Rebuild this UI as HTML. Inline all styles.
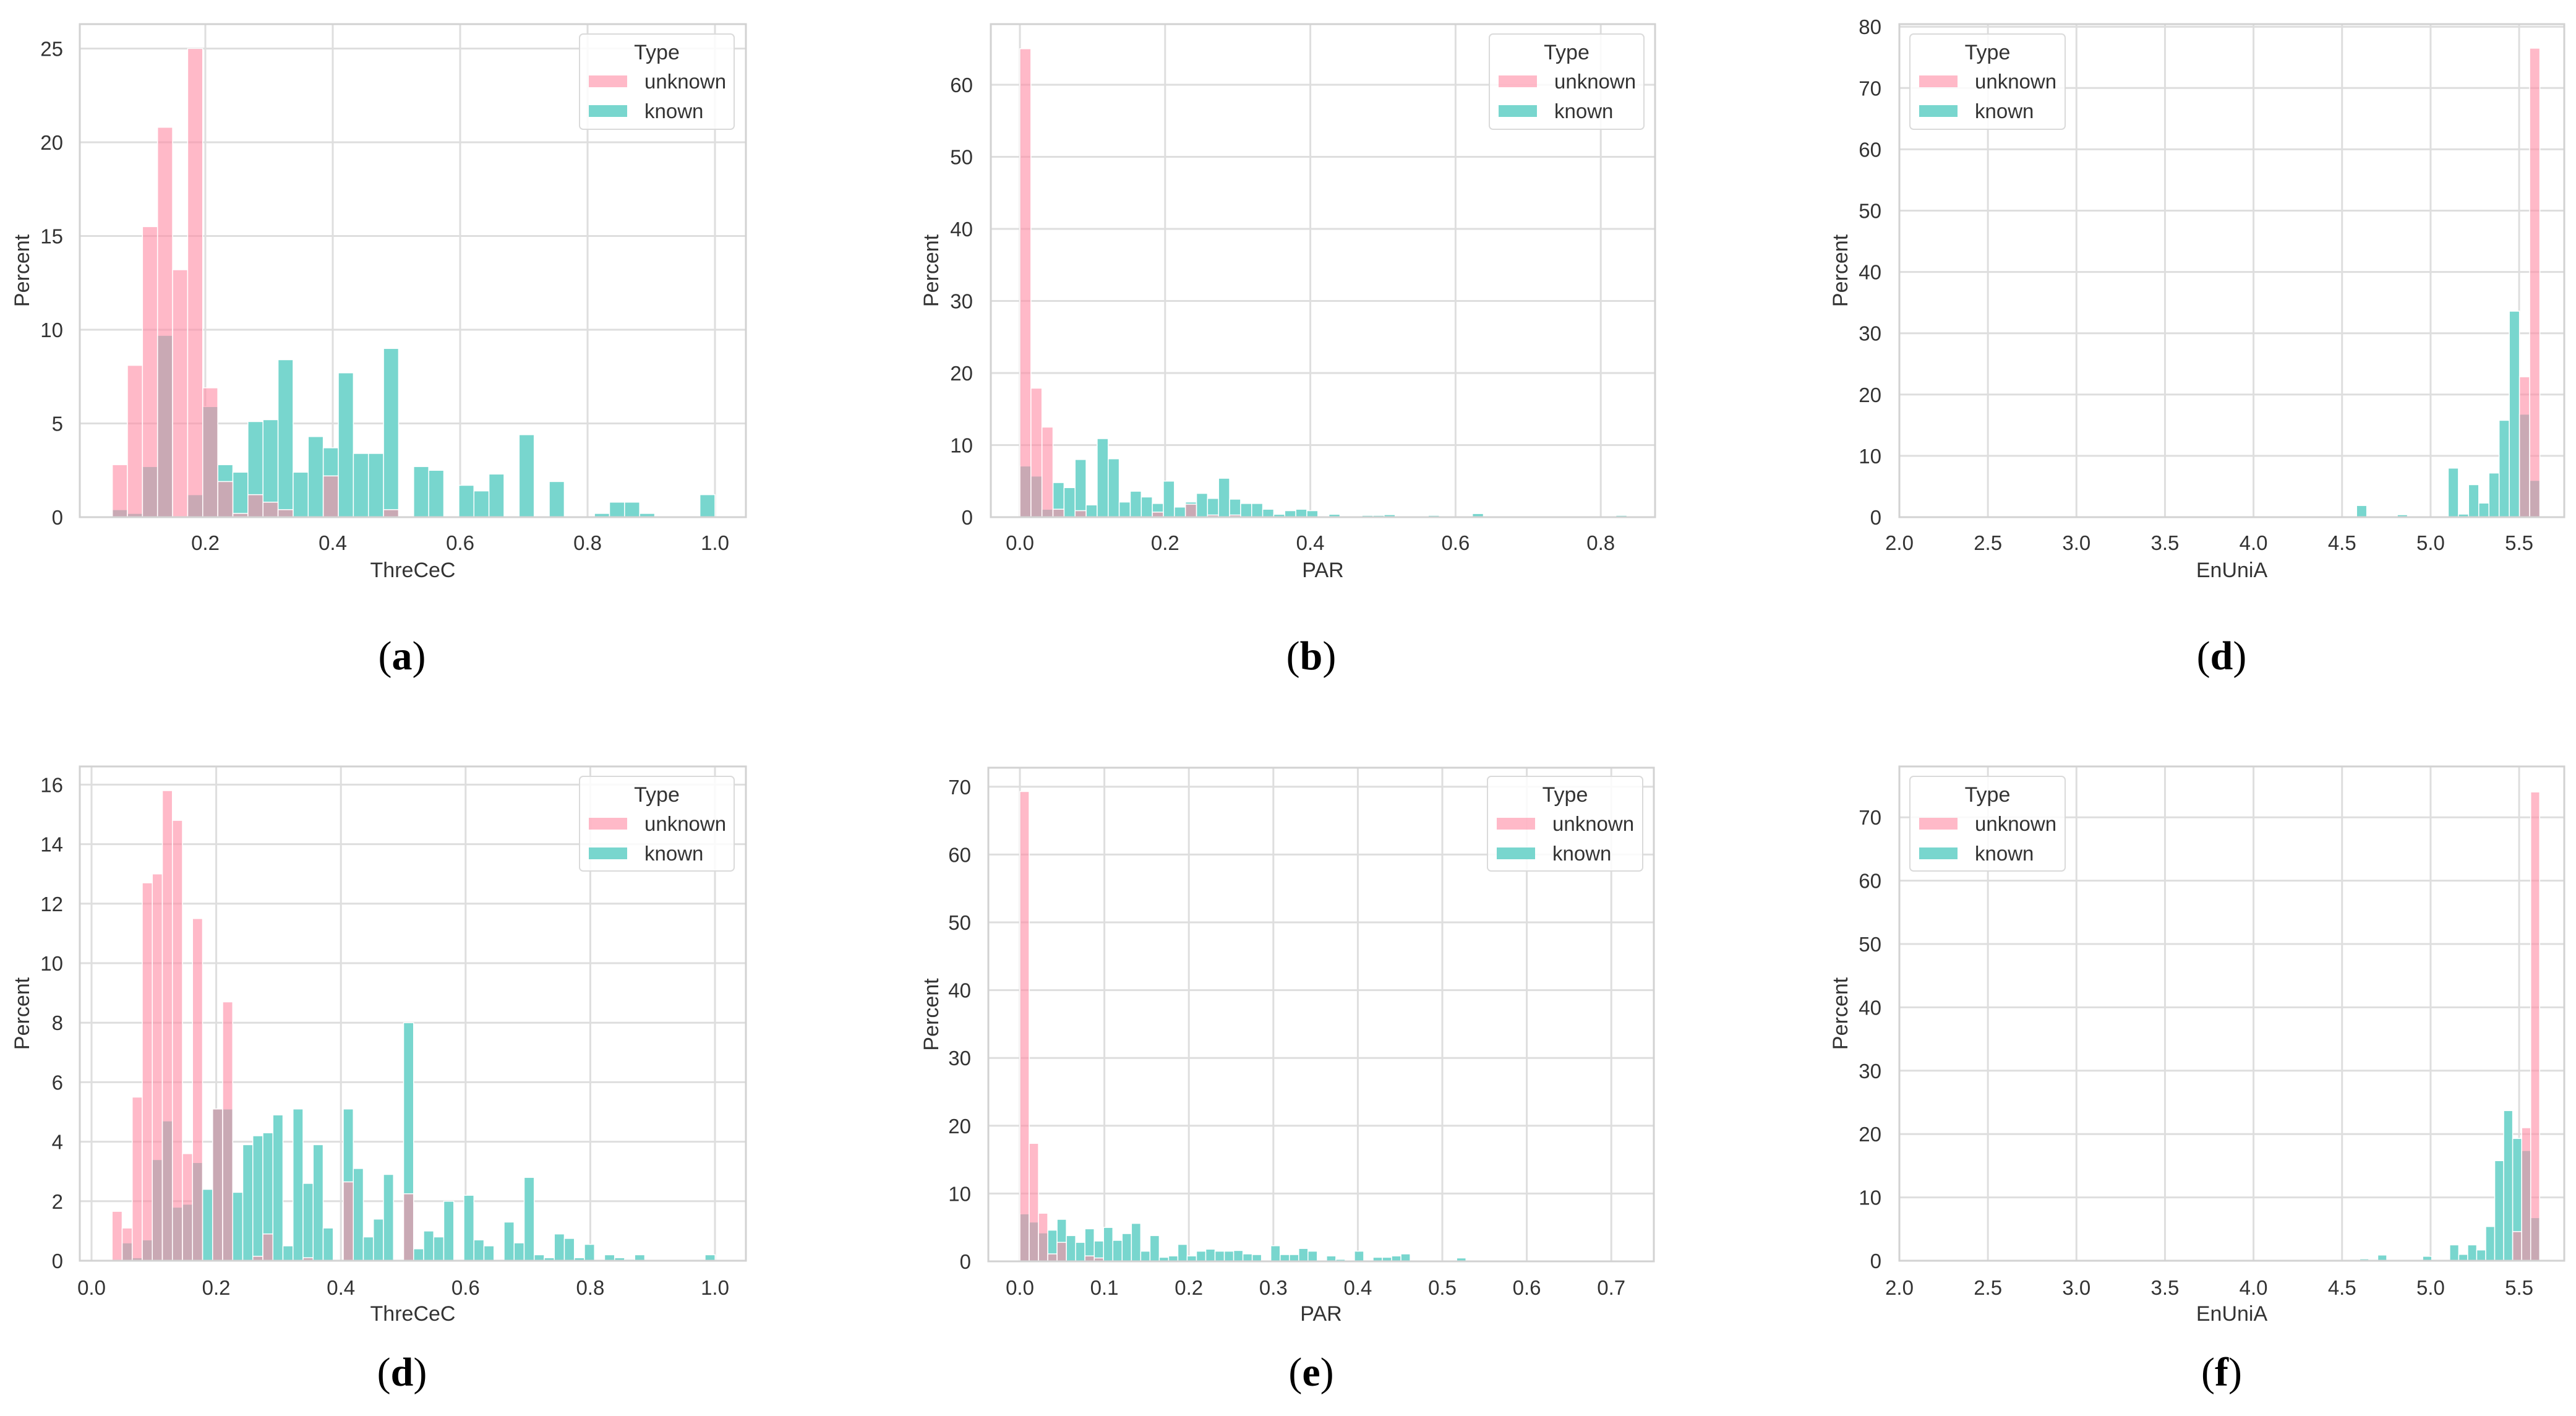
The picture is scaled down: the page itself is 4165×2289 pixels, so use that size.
<!DOCTYPE html>
<html><head><meta charset="utf-8"><style>
html,body{margin:0;padding:0;background:#fff}
svg{display:block}
text{font-family:"Liberation Sans",Arial,sans-serif;fill:#333}
.pl{font-family:"Liberation Serif",serif;fill:#000}
</style></head><body>
<svg id="fig" width="4165" height="2289" viewBox="0 0 4165 2289" xmlns="http://www.w3.org/2000/svg"></svg>
<script>
// ---- data (percent per bin) ----
const aUnknown=[2.8,8.1,15.5,20.8,13.2,25,6.9,1.9,0.2,1.2,0.8,0.4,0,0,2.2,0,0,0,0.4,0,0,0,0,0,0,0,0,0,0,0,0,0,0,0,0,0,0,0,0,0];
const aKnown=[0.4,0.2,2.7,9.7,0,1.2,5.9,2.8,2.4,5.1,5.2,8.4,2.4,4.3,3.7,7.7,3.4,3.4,9.0,0,2.7,2.5,0,1.7,1.4,2.3,0,4.4,0,1.9,0,0,0.2,0.8,0.8,0.2,0,0,0,1.2];
const bUnknown=[65,17.9,12.5,1.1,0,0.9,0,0,0,0,0,0,0.7,0,0,1.8,0,0.3,0,0.3,0,0,0,0,0,0,0,0,0,0,0,0,0,0,0,0,0,0,0,0,0,0,0,0,0,0,0,0,0,0,0,0,0,0,0];
const bKnown=[7.1,5.7,1.1,4.8,4.1,8.0,1.7,10.9,8.1,2.1,3.6,2.8,1.9,5.0,1.4,2.1,3.3,2.6,5.4,2.5,1.9,1.9,1.1,0.4,0.9,1.1,0.9,0,0.4,0,0,0.25,0.25,0.35,0,0,0,0.25,0,0,0,0.5,0.1,0.1,0,0,0,0,0,0,0,0,0,0,0.25];
const dTopUnknown=[0,0,0,0,0,0,0,0,0,0,0,0,0,0,0,0,22.9,76.5];
const dTopKnown=[1.9,0,0,0,0.4,0,0,0,0,8.0,0.5,5.3,2.3,7.2,15.8,33.6,16.8,6.0];
const dBotUnknown=[1.66,1.1,5.5,12.7,13.0,15.8,14.8,3.6,11.5,0,5.1,8.7,0,0,0.15,0.9,0,0,0,0.1,0,0,0,2.65,0,0,0,0,0,2.25,0,0,0,0,0,0,0,0,0,0,0,0,0,0,0,0,0,0,0,0,0,0,0,0,0,0,0,0,0,0];
const dBotKnown=[0,0.6,0.1,0.7,3.4,4.7,1.8,1.9,3.3,2.4,5.1,5.1,2.3,3.9,4.2,4.3,4.9,0.5,5.1,2.6,3.9,1.1,0,5.1,3.1,0.8,1.4,2.9,0,8.0,0.4,1.0,0.8,2.0,0,2.2,0.7,0.5,0,1.3,0.6,2.8,0.2,0.1,0.9,0.75,0.1,0.55,0,0.2,0.1,0.05,0.2,0,0,0,0,0,0,0.2];
const eUnknown=[69.3,17.4,7.1,1.1,2.8,0,0,0.8,0.5,0,0,0,0,0,0,0,0,0,0,0,0,0,0,0,0,0,0,0,0,0,0,0,0,0,0,0,0,0,0,0,0,0,0,0,0,0,0,0,0,0,0,0,0,0,0,0,0,0,0,0,0,0,0,0,0];
const eKnown=[7.0,5.8,4.2,4.6,6.2,3.8,2.8,4.8,3.0,5.0,3.1,4.1,5.6,1.5,3.8,0.6,0.8,2.5,0.8,1.5,1.8,1.5,1.5,1.6,1.1,1.0,0,2.3,1.0,1.0,1.9,1.5,0,0.8,0.3,0,1.5,0,0.6,0.6,0.8,1.1,0,0,0,0,0,0.5,0,0,0.2,0,0,0,0,0,0,0,0,0,0,0,0,0,0];
const fUnknown=[0,0,0,0,0,0,0,0,0,0,0,0,0,0,0,0,0,4.6,21.0,74.0];
const fKnown=[0.3,0,0.9,0,0.15,0,0,0.7,0,0,2.5,1.0,2.5,1.7,5.4,15.8,23.7,19.3,17.4,6.8];
// bin definitions (start, width)
const aBins=[0.054,0.02365], bBins=[0,0.0152], dTopBins=[4.582,0.0575], dBotBins=[0.033,0.01612], eBins=[0,0.011], fBins=[4.600,0.0508];
// tick labels
const aXTicks=["0.2","0.4","0.6","0.8","1.0"], aYTicks=[0,5,10,15,20,25];
const bXTicks=["0.0","0.2","0.4","0.6","0.8"], bYTicks=[0,10,20,30,40,50,60];
const dTopXTicks=["2.0","2.5","3.0","3.5","4.0","4.5","5.0","5.5"], dTopYTicks=[0,10,20,30,40,50,60,70,80];
const dBotXTicks=["0.0","0.2","0.4","0.6","0.8","1.0"], dBotYTicks=[0,2,4,6,8,10,12,14,16];
const eXTicks=["0.0","0.1","0.2","0.3","0.4","0.5","0.6","0.7"], eYTicks=[0,10,20,30,40,50,60,70];
const fXTicks=dTopXTicks, fYTicks=[0,10,20,30,40,50,60,70];

const NS="http://www.w3.org/2000/svg";
const svg=document.getElementById('fig');
function el(tag,attrs,parent,txt){const e=document.createElementNS(NS,tag);for(const k in attrs)e.setAttribute(k,attrs[k]);if(txt!==undefined)e.textContent=txt;(parent||svg).appendChild(e);return e;}

const panels=[
 {id:'a',box:[129,39,1206,836],x0:126,xs:1030,xv0:0,y0:836,ys:30.3,xt:aXTicks,yt:aYTicks,bins:aBins,unk:aUnknown,kn:aKnown,xl:'ThreCeC',px:35,tr:102,lg:[937,55,250,154],lab:'(a)',lx:650,row:0},
 {id:'b',box:[1602,39,2676,836],x0:1649,xs:1174,xv0:0,y0:836,ys:11.65,xt:bXTicks,yt:bYTicks,bins:bBins,unk:bUnknown,kn:bKnown,xl:'PAR',px:1505,tr:1573,lg:[2408,55,250,154],lab:'(b)',lx:2120,row:0},
 {id:'d-top',box:[3071,39,4146,836],x0:3071,xs:286.3,xv0:2,y0:836,ys:9.91,xt:dTopXTicks,yt:dTopYTicks,bins:dTopBins,unk:dTopUnknown,kn:dTopKnown,xl:'EnUniA',px:2975,tr:3042,lg:[3088,55,251,154],lab:'(d)',lx:3592,row:0},
 {id:'d-bottom',box:[129,1239,1206,2038],x0:148,xs:1008,xv0:0,y0:2038,ys:48.1,xt:dBotXTicks,yt:dBotYTicks,bins:dBotBins,unk:dBotUnknown,kn:dBotKnown,xl:'ThreCeC',px:35,tr:102,lg:[937,1255,250,153],lab:'(d)',lx:650,row:1},
 {id:'e',box:[1598,1241,2674,2039],x0:1649,xs:1366,xv0:0,y0:2039,ys:10.96,xt:eXTicks,yt:eYTicks,bins:eBins,unk:eUnknown,kn:eKnown,xl:'PAR',px:1505,tr:1570,lg:[2405,1255,251,153],lab:'(e)',lx:2120,row:1},
 {id:'f',box:[3071,1239,4146,2038],x0:3071,xs:286.3,xv0:2,y0:2038,ys:10.24,xt:fXTicks,yt:fYTicks,bins:fBins,unk:fUnknown,kn:fKnown,xl:'EnUniA',px:2975,tr:3042,lg:[3088,1255,251,153],lab:'(f)',lx:3592,row:1}
];

panels.forEach(p=>{
 const g=el('g',{});
 
 
 const X=v=>p.x0+(v-p.xv0)*p.xs, Y=v=>p.y0-v*p.ys;
 const [L,T,R,B]=p.box;
 // grid
 p.yt.forEach(t=>{const ln=el('line',{x1:L,x2:R,y1:Y(t),y2:Y(t),stroke:'#dedede','stroke-width':3},g);
  
  });
 p.xt.forEach(t=>{const ln=el('line',{x1:X(+t),x2:X(+t),y1:T,y2:B,stroke:'#dedede','stroke-width':3},g);
  
  });
 // bars
 const bs=p.bins[0], bw=p.bins[1];
 const drawSeries=(arr,fill,name)=>arr.forEach((v,i)=>{ if(v<=0)return;
  const x1=X(bs+i*bw), x2=X(bs+(i+1)*bw);
  const r=el('rect',{x:x1,y:Y(v),width:x2-x1,height:p.y0-Y(v),fill:fill,stroke:'#fff','stroke-width':1.5},g);
  
  });
 drawSeries(p.kn,'rgb(120,214,206)','known');
 drawSeries(p.unk,'rgba(255,138,163,0.6)','unknown');
 // frame
 const fr=el('rect',{x:L,y:T,width:R-L,height:B-T,fill:'none',stroke:'#d2d2d2','stroke-width':3},g);
 
 
 const ty=p.row?2093:889, xly=p.row?2135:933, ly=p.row?2240:1082;
 p.xt.forEach(t=>{const tx=el('text',{x:X(+t),y:ty,'font-size':33,'text-anchor':'middle'},g,t);
  
  });
 p.yt.forEach(t=>{const tx=el('text',{x:p.tr,y:Y(t)+12,'font-size':33,'text-anchor':'end'},g,String(t));
  
  });
 const xt=el('text',{x:(L+R)/2,y:xly,'font-size':34,'text-anchor':'middle'},g,p.xl);
 
 
 const cy=(T+B)/2;
 const yt=el('text',{x:p.px,y:cy,'font-size':34,'text-anchor':'middle',transform:`rotate(-90 ${p.px} ${cy})`,dy:12},g,'Percent');
 
 
 // legend
 const [lx,lyy,lw,lh]=p.lg;
 const lg=el('g',{},g);
 
 
 el('rect',{x:lx,y:lyy,width:lw,height:lh,rx:6,fill:'rgba(255,255,255,0.85)',stroke:'#dadada','stroke-width':2},lg);
 const lt=el('text',{x:lx+lw/2,y:lyy+41,'font-size':34,'text-anchor':'middle'},lg,'Type');
 
 
 [['unknown','rgba(255,138,163,0.6)',76],['known','rgb(120,214,206)',124]].forEach(([nm,c,dy])=>{
  const e=el('g',{},lg);
  
  
  el('rect',{x:lx+15,y:lyy+dy-9,width:62,height:19,fill:c},e);
  el('text',{x:lx+105,y:lyy+dy+12,'font-size':33},e,nm);
 });
 const pl=el('text',{x:p.lx,y:ly,'font-size':66,'text-anchor':'middle','class':'pl'},g);
 
 
 el('tspan',{},pl,'(');
 el('tspan',{'font-weight':'bold'},pl,p.lab.slice(1,-1));
 el('tspan',{},pl,')');
});
</script>
</body></html>
